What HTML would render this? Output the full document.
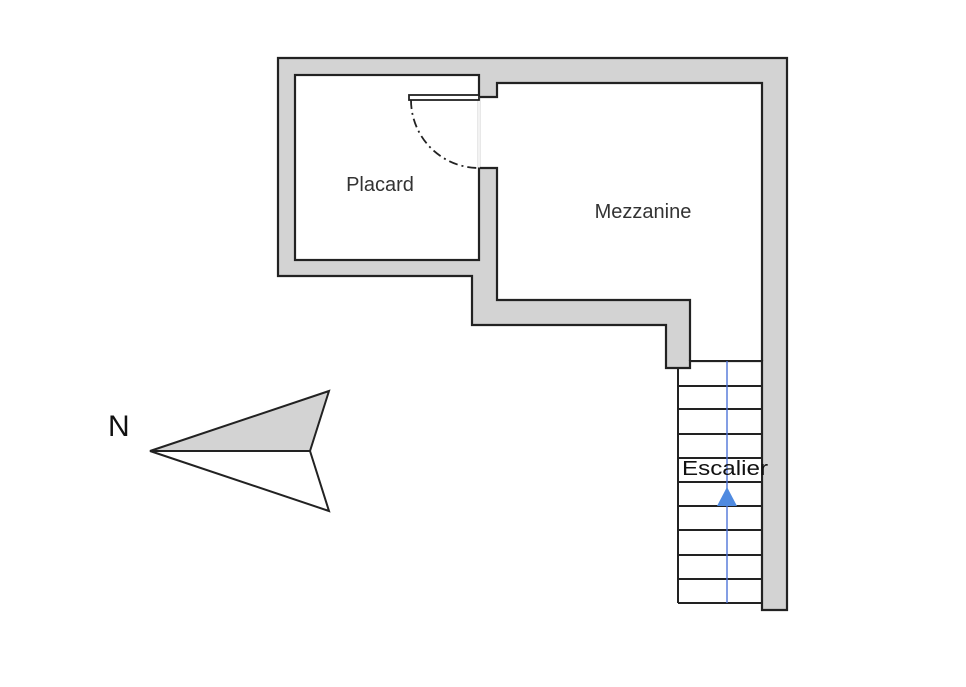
<!DOCTYPE html>
<html><head><meta charset="utf-8"><style>
html,body{margin:0;padding:0;background:#fff;}
svg{display:block;}
text{font-family:"Liberation Sans","DejaVu Sans",sans-serif;}
</style></head><body>
<svg width="966" height="687" viewBox="0 0 966 687" xmlns="http://www.w3.org/2000/svg">
<rect width="966" height="687" fill="#fff"/>
<polygon points="278,58 787,58 787,610 762,610 762,361 690,361 690,368 666,368 666,325 472,325 472,276 278,276" fill="#d3d3d3" stroke="#222" stroke-width="2.2"/>
<polygon points="497,83 762,83 762,361 690,361 690,300 497,300" fill="#fff"/>
<rect x="478" y="97" width="20" height="71" fill="#fff"/>
<polyline points="479,97 497,97 497,83 762,83 762,361" fill="none" stroke="#222" stroke-width="2.2"/>
<polyline points="479,168 497,168 497,300 690,300 690,361" fill="none" stroke="#222" stroke-width="2.2"/>
<rect x="295" y="75" width="184" height="185" fill="#fff" stroke="#222" stroke-width="2.2"/>
<rect x="478" y="97" width="2" height="70" fill="#fff"/>
<line x1="479" y1="100" x2="479" y2="168" stroke="#e6e6e6" stroke-width="1"/>
<rect x="409" y="95" width="70" height="5" fill="#fff" stroke="#222" stroke-width="1.8"/>
<path d="M411,100 A68,68 0 0 0 479,168" fill="none" stroke="#222" stroke-width="1.8" stroke-dasharray="9,4,2,4"/>
<g stroke="#222" stroke-width="2">
<line x1="678" y1="368" x2="678" y2="603"/>
<line x1="690" y1="361" x2="762" y2="361"/>
<line x1="678" y1="386" x2="762" y2="386"/>
<line x1="678" y1="409" x2="762" y2="409"/>
<line x1="678" y1="434" x2="762" y2="434"/>
<line x1="678" y1="458" x2="762" y2="458"/>
<line x1="678" y1="482" x2="762" y2="482"/>
<line x1="678" y1="506" x2="762" y2="506"/>
<line x1="678" y1="530" x2="762" y2="530"/>
<line x1="678" y1="555" x2="762" y2="555"/>
<line x1="678" y1="579" x2="762" y2="579"/>
<line x1="678" y1="603" x2="762" y2="603"/>
</g>
<rect x="679" y="459" width="82" height="22" fill="#fff"/>
<line x1="727" y1="361" x2="727" y2="603" stroke="#4a6fd8" stroke-width="1.5" opacity="0.9"/>
<polygon points="727,487 717,506 737,506" fill="#4f8ae0"/>
<text x="682" y="475" font-size="20" fill="#111" textLength="86" lengthAdjust="spacingAndGlyphs">Escalier</text>
<text x="380" y="191" font-size="20" fill="#333" text-anchor="middle">Placard</text>
<text x="643" y="218" font-size="20" fill="#333" text-anchor="middle">Mezzanine</text>
<polygon points="150,451 329,391 310,451" fill="#d3d3d3" stroke="#222" stroke-width="2"/>
<polygon points="150,451 310,451 329,511" fill="#fff" stroke="#222" stroke-width="2"/>
<text x="108" y="436" font-size="30" fill="#111">N</text>
</svg>
</body></html>
